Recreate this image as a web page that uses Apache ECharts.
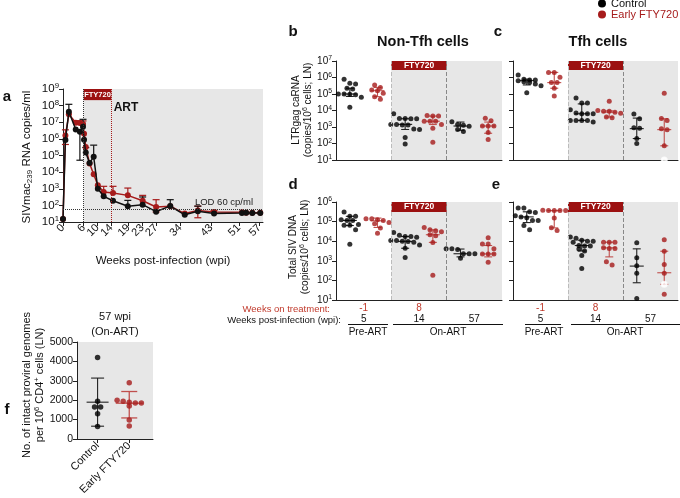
<!DOCTYPE html>
<html><head><meta charset="utf-8">
<script src="https://cdn.jsdelivr.net/npm/echarts@6/dist/echarts.min.js"></script>
<style>html,body{margin:0;padding:0;background:#fff}#c{width:680px;height:498px}</style>
</head><body><div id="c"></div>
<script>
// ---------- Panel a: plasma viral load (weeks post-infection) ----------
const aTicks = [0, 6, 10, 14, 19, 23, 27, 34, 43, 51, 57];
const aWeeks = [0, 0.7, 1.7, 3.7, 4.9, 5.8, 6.1, 6.6, 7.7, 8.9, 10.1, 11.8, 14.5, 18.8, 23.1, 27, 31.1, 35.3, 39.1, 43.8, 51.9, 53.1, 54.9, 57.2];
const aCtrl = [15, 8.5e5, 4.3e7, 3.7e6, 2.7e6, 5.4e6, 9e5, 1.5e5, 3.6e4, 8.3e4, 1e3, 350, 190, 89, 110, 42, 91, 27, 44, 32, 35, 36, 35, 35];
const aFty  = [15, 1.6e6, 3e7, 9.3e6, 9e6, 7.8e6, 2e6, 3.3e5, 3.3e4, 7.5e3, 1.6e3, 630, 560, 400, 190, 80, 89, 32, 50, 40, 38, 36, 36, 36];
const aCtrlHi = [null, null, 1.2e8, null, null, 1.5e7, null, 3e5, null, 4.2e5, null, null, null, 200, 320, null, 220, null, 90, null, null, null, null, null];
const aCtrlLo = [null, null, null, null, 5.2e4, null, null, null, null, null, null, null, null, null, null, null, null, null, null, null, null, null, null, null];
const aFtyHi  = [null, 3.5e6, null, 1.2e7, 1.2e7, 1.2e7, null, null, null, null, null, 1.4e3, 1.4e3, 1.1e3, 400, 220, null, null, 90, 50, null, null, null, null];
const aFtyLo  = [null, 4.6e5, null, null, null, null, null, null, null, null, null, null, null, null, null, 40, null, null, 18, null, null, null, null, null];

// ---------- Panels b-e: log10 values per group [Pre-ART wk5, On-ART wk14, On-ART wk57] ----------
const bCtrl = [[5.9, 5.65, 5.6, 5.35, 5.3, 5.0, 5.0, 4.98, 4.95, 4.8, 4.2],
               [3.8, 3.52, 3.52, 3.5, 3.5, 3.15, 3.15, 3.12, 3.12, 2.88, 2.85, 2.36, 1.97],
               [3.32, 3.15, 3.1, 3.05, 2.85, 2.72]];
const bFty  = [[5.55, 5.4, 5.24, 5.2, 5.04, 4.84, 4.68],
               [3.7, 3.66, 3.66, 3.35, 3.35, 3.35, 3.15, 2.92, 2.07],
               [3.53, 3.38, 3.06, 3.06, 3.06, 2.66, 2.25]];
const bFtyOpen = [[], [], []];
const bCtrlSum = [[4.85, 5.0, 5.35], [2.85, 3.16, 3.5], [2.8, 3.06, 3.3]];
const bFtySum  = [[4.84, 5.2, 5.4], [3.15, 3.35, 3.66], [2.62, 3.06, 3.3]];

const cCtrl = [[6.15, 5.9, 5.85, 5.85, 5.8, 5.8, 5.75, 5.7, 5.6, 5.5, 5.08],
               [4.76, 4.46, 4.46, 4.05, 3.85, 3.8, 3.8, 3.8, 3.4, 3.4, 3.4, 3.4, 3.3],
               [3.79, 3.5, 2.96, 2.92, 2.31, 2.0]];
const cFty  = [[6.31, 6.31, 6.01, 5.69, 5.69, 5.35, 4.88],
               [4.56, 4.0, 3.96, 3.95, 3.9, 3.84, 3.6, 3.56],
               [5.04, 3.52, 3.4, 2.9, 2.84, 1.86]];
const cFtyOpen = [[], [], [1.0]];
const cCtrlSum = [[5.55, 5.81, 5.9], [3.4, 3.8, 4.4], [2.3, 2.9, 3.54]];
const cFtySum  = [[5.35, 5.69, 6.31], [3.6, 3.9, 3.98], [1.86, 2.84, 3.5]];

const dCtrl = [[5.49, 5.27, 5.27, 5.1, 5.06, 5.06, 4.85, 4.82, 4.82, 4.58, 3.85],
               [4.45, 4.3, 4.24, 4.24, 4.2, 4.04, 4.04, 4.0, 3.98, 3.95, 3.8, 3.64, 3.17],
               [3.61, 3.61, 3.58, 3.36, 3.36, 3.36, 3.13]];
const dFty  = [[5.15, 5.15, 5.1, 5.05, 4.95, 4.89, 4.67, 4.41],
               [4.7, 4.58, 4.53, 4.48, 4.33, 4.28, 3.94, 2.26],
               [4.17, 3.86, 3.86, 3.61, 3.35, 3.35, 3.35, 2.93]];
const dFtyOpen = [[], [], []];
const dCtrlSum = [[4.8, 5.06, 5.27], [3.64, 3.99, 4.24], [3.2, 3.36, 3.6]];
const dFtySum  = [[4.7, 5.04, 5.18], [3.94, 4.33, 4.58], [3.2, 3.35, 3.78]];

const eCtrl = [[5.7, 5.69, 5.5, 5.47, 5.3, 5.24, 5.2, 5.05, 5.05, 4.8, 4.59],
               [4.22, 4.15, 4.05, 4.0, 4.0, 3.95, 3.78, 3.75, 3.75, 3.6, 3.5, 3.27, 2.61],
               [3.92, 3.15, 2.75, 2.36, 1.08]];
const eFty  = [[5.58, 5.56, 5.56, 5.56, 5.56, 5.19, 4.68, 4.54],
               [3.95, 3.95, 3.95, 3.66, 3.63, 3.63, 2.95, 2.78],
               [4.08, 3.49, 2.81, 2.36, 1.29]];
const eFtyOpen = [[], [], [1.8]];
const eCtrlSum = [[4.95, 5.24, 5.5], [3.5, 3.78, 4.05], [1.88, 2.73, 3.61]];
const eFtySum  = [[4.68, 5.56, 5.56], [3.2, 3.66, 3.95], [1.8, 2.39, 3.49]];

const treatWeeks = ['-1', '8', ''];
const wpiWeeks = ['5', '14', '57'];
const stages = ['Pre-ART', 'On-ART'];

// ---------- Panel f ----------
const fCats = ['Control', 'Early FTY720'];
const fCtrl = [4200, 1950, 1650, 1650, 1300, 640];
const fFty  = [2900, 2000, 1950, 1900, 1850, 1850, 1700, 980, 670];
const fCtrlSum = [660, 1898, 3140];
const fFtySum  = [1086, 1845, 2448];

// ---------- styling ----------
const FONT = 'Liberation Sans, Arial, Helvetica, sans-serif';
const RED = '#a61b1b';
const RED_ERR = '#c0504d';
const BOX = '#9c1111';
const GRAY = '#e7e7e7';
const p10 = e => Math.pow(10, e);

function swarm(vals, center, isLog, pxX, pxY, diam) {
  const items = vals.map((v, i) => ({ v, t: isLog ? Math.log10(v) : v, i }));
  items.sort((a, b) => b.t - a.t);
  const binH = diam / pxY;
  const bins = [];
  let cur = null;
  items.forEach(it => {
    if (cur && cur.start - it.t < binH) cur.items.push(it);
    else { cur = { start: it.t, items: [it] }; bins.push(cur); }
  });
  const out = [];
  bins.forEach(b => {
    const n = b.items.length;
    b.items.forEach((it, k) => {
      out.push({ x: center + (k - (n - 1) / 2) * diam * 1.15 / pxX, v: it.v, i: it.i });
    });
  });
  return out;
}

function summaryRender(color, halfMed, halfCap, lw, medColor) {
  return function (params, api) {
    const x = api.value(0);
    const a = api.coord([x, api.value(1)]);
    const m = api.coord([x, api.value(2)]);
    const h = api.coord([x, api.value(3)]);
    const st = { stroke: color, lineWidth: lw };
    return { type: 'group', children: [
      { type: 'line', shape: { x1: a[0], y1: a[1], x2: h[0], y2: h[1] }, style: st },
      { type: 'line', shape: { x1: a[0] - halfCap, y1: a[1], x2: a[0] + halfCap, y2: a[1] }, style: st },
      { type: 'line', shape: { x1: h[0] - halfCap, y1: h[1], x2: h[0] + halfCap, y2: h[1] }, style: st },
      { type: 'line', shape: { x1: m[0] - halfMed, y1: m[1], x2: m[0] + halfMed, y2: m[1] }, style: { stroke: medColor || color, lineWidth: lw } }
    ] };
  };
}

function errRender(color) {
  return function (params, api) {
    const x = api.value(0);
    const a = api.coord([x, api.value(1)]);
    const h = api.coord([x, api.value(2)]);
    const st = { stroke: color, lineWidth: 1.2 };
    const ch = [{ type: 'line', shape: { x1: a[0], y1: a[1], x2: h[0], y2: h[1] }, style: st }];
    if (api.value(3)) ch.push({ type: 'line', shape: { x1: a[0] - 3.5, y1: a[1], x2: a[0] + 3.5, y2: a[1] }, style: st });
    if (api.value(4)) ch.push({ type: 'line', shape: { x1: h[0] - 3.5, y1: h[1], x2: h[0] + 3.5, y2: h[1] }, style: st });
    return { type: 'group', children: ch };
  };
}

const supRich = (fs, sfs) => ({ s: { fontSize: sfs, verticalAlign: 'top', lineHeight: fs + 2, padding: [0, 0, 0, 0], fontFamily: FONT } });
const logFmt = v => '10{s|' + Math.round(Math.log10(v)) + '}';

const grids = [
  { left: 63, top: 89, width: 200, height: 133 },   // a
  { left: 336, top: 61, width: 166, height: 99 },   // b
  { left: 513, top: 61, width: 165, height: 99 },   // c
  { left: 336, top: 202, width: 166, height: 98 },  // d
  { left: 513, top: 202, width: 165, height: 98 },  // e
  { left: 77, top: 342, width: 76, height: 97, show: true, backgroundColor: GRAY, borderWidth: 0 } // f
];

const axLine = { show: true, lineStyle: { color: '#222', width: 1 } };
const xAxes = [
  { gridIndex: 0, type: 'value', min: 0, max: 58, axisLine: axLine, splitLine: { show: false },
    axisTick: { customValues: aTicks, length: 4, lineStyle: { color: '#222' } },
    axisLabel: { customValues: aTicks, rotate: 45, fontSize: 11, color: '#111', fontFamily: FONT, margin: 4 },
    name: 'Weeks post-infection (wpi)', nameLocation: 'middle', nameGap: 33,
    nameTextStyle: { fontSize: 11.5, color: '#111', fontFamily: FONT } }
];
for (let g = 1; g <= 4; g++) {
  const withLabels = g >= 3;
  xAxes.push({ gridIndex: g, type: 'value', min: 0, max: 6, axisLine: axLine, splitLine: { show: false },
    axisTick: { show: false },
    axisLabel: withLabels ? {
      customValues: [1, 3, 5], margin: 3, fontFamily: FONT,
      formatter: v => { const i = Math.round((v - 1) / 2); return '{r|' + (treatWeeks[i] || ' ') + '}\n{k|' + wpiWeeks[i] + '}'; },
      rich: { r: { color: '#c0392b', fontSize: 10, lineHeight: 11, fontFamily: FONT }, k: { color: '#111', fontSize: 10, lineHeight: 11, fontFamily: FONT } }
    } : { show: false } });
}
xAxes.push({ gridIndex: 5, type: 'value', min: 0.35, max: 2.75, axisLine: axLine, splitLine: { show: false },
  axisTick: { customValues: [1, 2], length: 4 },
  axisLabel: { customValues: [1, 2], rotate: 45, fontSize: 11, color: '#111', fontFamily: FONT, margin: 5, formatter: v => fCats[Math.round(v) - 1] } });

function logY(g, max, showLabels, fs) {
  return { gridIndex: g, type: 'log', logBase: 10, min: 10, max: max, interval: 1,
    axisLine: axLine, splitLine: { show: false }, minorTick: { show: false },
    axisTick: { length: 4, lineStyle: { color: '#222' } },
    axisLabel: showLabels ? { formatter: logFmt, fontSize: fs, color: '#111', fontFamily: FONT, margin: 4, rich: supRich(fs, fs * 0.68) } : { show: false } };
}
const yAxes = [
  logY(0, 1e9, true, 11.5),
  logY(1, 1e7, true, 10),
  logY(2, 1e7, false, 10),
  logY(3, 1e6, true, 10),
  logY(4, 1e6, false, 10),
  { gridIndex: 5, type: 'value', min: 0, max: 5000, interval: 1000, axisLine: axLine, splitLine: { show: false },
    axisTick: { length: 4 }, axisLabel: { fontSize: 10.5, color: '#111', fontFamily: FONT, margin: 4, formatter: v => String(v) } }
];

const series = [];
// --- panel a background / annotations
series.push({ type: 'scatter', xAxisIndex: 0, yAxisIndex: 0, data: [], z: 1, silent: true,
  markArea: { silent: true, data: [
    [{ xAxis: 6, yAxis: 10, itemStyle: { color: GRAY } }, { xAxis: 58, yAxis: 1e9 }],
    [{ xAxis: 6, yAxis: p10(8.33), itemStyle: { color: BOX },
       label: { show: true, position: 'inside', formatter: 'FTY720', color: '#fff', fontWeight: 'bold', fontSize: 7.5, fontFamily: FONT } },
     { xAxis: 14, yAxis: 1e9 }]
  ] },
  markLine: { silent: true, symbol: ['none', 'none'], animation: false, data: [
    { xAxis: 6, lineStyle: { color: '#333', type: 'dotted', width: 1 }, label: { show: false } },
    { xAxis: 14, lineStyle: { color: RED, type: 'dotted', width: 1 }, label: { show: false } },
    { yAxis: 60, lineStyle: { color: '#333', type: 'dotted', width: 1 },
      label: { show: true, position: 'insideEndTop', formatter: 'LOD 60 cp/ml', fontSize: 9.5, color: '#222', fontFamily: FONT, distance: [10, 2] } }
  ] } });

function errData(weeks, vals, lo, hi) {
  const out = [];
  weeks.forEach((w, i) => {
    if (lo[i] == null && hi[i] == null) return;
    out.push([w, lo[i] != null ? lo[i] : vals[i], hi[i] != null ? hi[i] : vals[i], lo[i] != null ? 1 : 0, hi[i] != null ? 1 : 0]);
  });
  return out;
}
series.push({ type: 'custom', xAxisIndex: 0, yAxisIndex: 0, z: 2, silent: true, renderItem: errRender(RED), data: errData(aWeeks, aFty, aFtyLo, aFtyHi) });
series.push({ type: 'custom', xAxisIndex: 0, yAxisIndex: 0, z: 2, silent: true, renderItem: errRender('#111'), data: errData(aWeeks, aCtrl, aCtrlLo, aCtrlHi) });
series.push({ name: 'Early FTY720', type: 'line', xAxisIndex: 0, yAxisIndex: 0, z: 3, data: aWeeks.map((w, i) => [w, aFty[i]]),
  symbol: 'circle', symbolSize: 6, lineStyle: { color: RED, width: 1.5 }, itemStyle: { color: RED } });
series.push({ name: 'Control', type: 'line', xAxisIndex: 0, yAxisIndex: 0, z: 4, data: aWeeks.map((w, i) => [w, aCtrl[i]]),
  symbol: 'circle', symbolSize: 6, lineStyle: { color: '#111', width: 1.5 }, itemStyle: { color: '#111' } });

// --- panels b-e
function dotPanel(g, ctrl, fty, ftyOpen, ctrlSum, ftySum, pxY, boxLo, yMax) {
  series.push({ type: 'scatter', xAxisIndex: g, yAxisIndex: g, data: [], z: 1, silent: true,
    markArea: { silent: true, data: [
      [{ xAxis: 2, yAxis: 10, itemStyle: { color: GRAY } }, { xAxis: 6, yAxis: yMax }],
      [{ xAxis: 2, yAxis: boxLo, itemStyle: { color: BOX },
         label: { show: true, position: 'inside', formatter: 'FTY720', color: '#fff', fontWeight: 'bold', fontSize: 8.5, fontFamily: FONT } },
       { xAxis: 4, yAxis: yMax }]
    ] },
    markLine: { silent: true, symbol: ['none', 'none'], label: { show: false }, data: [
      { xAxis: 2, lineStyle: { color: '#bbb', type: 'dashed', width: 1 } },
      { xAxis: 4, lineStyle: { color: '#888', type: 'dashed', width: 1 } }
    ] } });
  const pxX = 166 / 6, diam = 5;
  const cData = [], fData = [];
  for (let k = 0; k < 3; k++) {
    swarm(ctrl[k].map(p10), 2 * k + 0.5, true, pxX, pxY, diam).forEach(p => cData.push([p.x, p.v]));
    const all = fty[k].map(v => ({ v: p10(v), open: false })).concat(ftyOpen[k].map(v => ({ v: p10(v), open: true })));
    swarm(all.map(o => o.v), 2 * k + 1.5, true, pxX, pxY, diam).forEach(p => {
      if (all[p.i].open) fData.push({ value: [p.x, p.v], symbol: 'emptyCircle', itemStyle: { color: '#fff', borderColor: RED, borderWidth: 1 } });
      else fData.push([p.x, p.v]);
    });
  }
  series.push({ type: 'custom', xAxisIndex: g, yAxisIndex: g, z: 2, silent: true, renderItem: summaryRender('#222', 7, 4, 1.1),
    data: ctrlSum.map((s, k) => [2 * k + 0.5, p10(s[0]), p10(s[1]), p10(s[2])]) });
  series.push({ type: 'custom', xAxisIndex: g, yAxisIndex: g, z: 2, silent: true, renderItem: summaryRender(RED_ERR, 7, 4, 1.1),
    data: ftySum.map((s, k) => [2 * k + 1.5, p10(s[0]), p10(s[1]), p10(s[2])]) });
  series.push({ name: 'Control', type: 'scatter', xAxisIndex: g, yAxisIndex: g, z: 3, symbolSize: 5, itemStyle: { color: '#000' }, data: cData });
  series.push({ name: 'Early FTY720', type: 'scatter', xAxisIndex: g, yAxisIndex: g, z: 3, symbolSize: 5, itemStyle: { color: RED }, data: fData });
}
dotPanel(1, bCtrl, bFty, bFtyOpen, bCtrlSum, bFtySum, 16.5, p10(6.45), 1e7);
dotPanel(2, cCtrl, cFty, cFtyOpen, cCtrlSum, cFtySum, 16.5, p10(6.45), 1e7);
dotPanel(3, dCtrl, dFty, dFtyOpen, dCtrlSum, dFtySum, 19.6, p10(5.49), 1e6);
dotPanel(4, eCtrl, eFty, eFtyOpen, eCtrlSum, eFtySum, 19.6, p10(5.49), 1e6);

// --- panel f
(function () {
  const pxX = 31.2, pxY = 97 / 5000, diam = 5.2;
  const cD = swarm(fCtrl, 1, false, pxX, pxY, diam).map(p => [p.x, p.v]);
  const fD = swarm(fFty, 2, false, pxX, pxY, diam).map(p => [p.x, p.v]);
  series.push({ type: 'custom', xAxisIndex: 5, yAxisIndex: 5, z: 2, silent: true, renderItem: summaryRender('#222', 11, 6.5, 1.1),
    data: [[1, fCtrlSum[0], fCtrlSum[1], fCtrlSum[2]]] });
  series.push({ type: 'custom', xAxisIndex: 5, yAxisIndex: 5, z: 2, silent: true, renderItem: summaryRender(RED_ERR, 13.5, 8, 1.3),
    data: [[2, fFtySum[0], fFtySum[1], fFtySum[2]]] });
  series.push({ name: 'Control', type: 'scatter', xAxisIndex: 5, yAxisIndex: 5, z: 3, symbolSize: 5.5, itemStyle: { color: '#000' }, data: cD });
  series.push({ name: 'Early FTY720', type: 'scatter', xAxisIndex: 5, yAxisIndex: 5, z: 3, symbolSize: 5.5, itemStyle: { color: RED }, data: fD });
})();

// ---------- text annotations ----------
const G = [];
function txt(x, y, text, style, el) {
  G.push(Object.assign({ type: 'text', x: x, y: y, silent: true, z: 10,
    style: Object.assign({ text: text, fill: '#111', fontSize: 11, fontFamily: FONT, align: 'center', verticalAlign: 'middle' }, style || {}) }, el || {}));
}
function hline(x1, x2, y) { G.push({ type: 'line', silent: true, z: 10, shape: { x1: x1, y1: y, x2: x2, y2: y }, style: { stroke: '#111', lineWidth: 1 } }); }
const bold15 = { fontSize: 15, fontWeight: 'bold' };
txt(7, 97, 'a', bold15);
txt(293, 32, 'b', bold15);
txt(498, 32, 'c', bold15);
txt(293, 185, 'd', bold15);
txt(496, 185, 'e', bold15);
txt(7, 410, 'f', bold15);
txt(423, 42, 'Non-Tfh cells', { fontSize: 14.5, fontWeight: 'bold' });
txt(598, 42, 'Tfh cells', { fontSize: 14.5, fontWeight: 'bold' });
txt(126, 108, 'ART', { fontSize: 12, fontWeight: 'bold' });

const ROT = Math.PI / 2;
txt(27, 157, 'SIVmac{b|239} RNA copies/ml', { fontSize: 11.5, rich: { b: { fontSize: 8, verticalAlign: 'bottom', lineHeight: 14, fontFamily: FONT } } }, { rotation: ROT });
txt(302, 110, 'LTRgag caRNA\n(copies/10{s|6} cells; LN)', { fontSize: 10, lineHeight: 11.5, rich: { s: { fontSize: 7, verticalAlign: 'top', lineHeight: 11.5, fontFamily: FONT } } }, { rotation: ROT });
txt(299, 247, 'Total SIV DNA\n(copies/10{s|6} cells; LN)', { fontSize: 10, lineHeight: 11.5, rich: { s: { fontSize: 7, verticalAlign: 'top', lineHeight: 11.5, fontFamily: FONT } } }, { rotation: ROT });
txt(33, 385, 'No. of intact proviral genomes\nper 10{s|6} CD4{s|+} cells (LN)', { fontSize: 11, lineHeight: 13, rich: { s: { fontSize: 7.5, verticalAlign: 'top', lineHeight: 13, fontFamily: FONT } } }, { rotation: ROT });
txt(115, 317, '57 wpi', { fontSize: 11 });
txt(115, 332, '(On-ART)', { fontSize: 11 });

txt(330, 309, 'Weeks on treatment:', { fontSize: 9.5, align: 'right', fill: '#c0392b' });
txt(341, 320, 'Weeks post-infection (wpi):', { fontSize: 9.5, align: 'right' });
hline(348, 388, 324.5); hline(393, 503, 324.5);
txt(368, 332, stages[0], { fontSize: 10 });
txt(448, 332, stages[1], { fontSize: 10 });
hline(525, 561, 324.5); hline(571, 680, 324.5);
txt(544, 332, stages[0], { fontSize: 10 });
txt(625, 332, stages[1], { fontSize: 10 });

const option = {
  animation: false,
  backgroundColor: '#fff',
  textStyle: { fontFamily: FONT },
  grid: grids,
  xAxis: xAxes,
  yAxis: yAxes,
  legend: { orient: 'vertical', left: 598, top: -2, itemWidth: 8, itemHeight: 8, itemGap: 0, icon: 'circle', padding: 0,
    textStyle: { fontSize: 11, fontFamily: FONT },
    data: [ { name: 'Control', itemStyle: { color: '#000' }, textStyle: { color: '#111' } },
            { name: 'Early FTY720', itemStyle: { color: RED }, textStyle: { color: RED } } ] },
  series: series,
  graphic: G
};
const chart = echarts.init(document.getElementById('c'), null, { renderer: 'canvas' });
chart.setOption(option);
</script></body></html>
